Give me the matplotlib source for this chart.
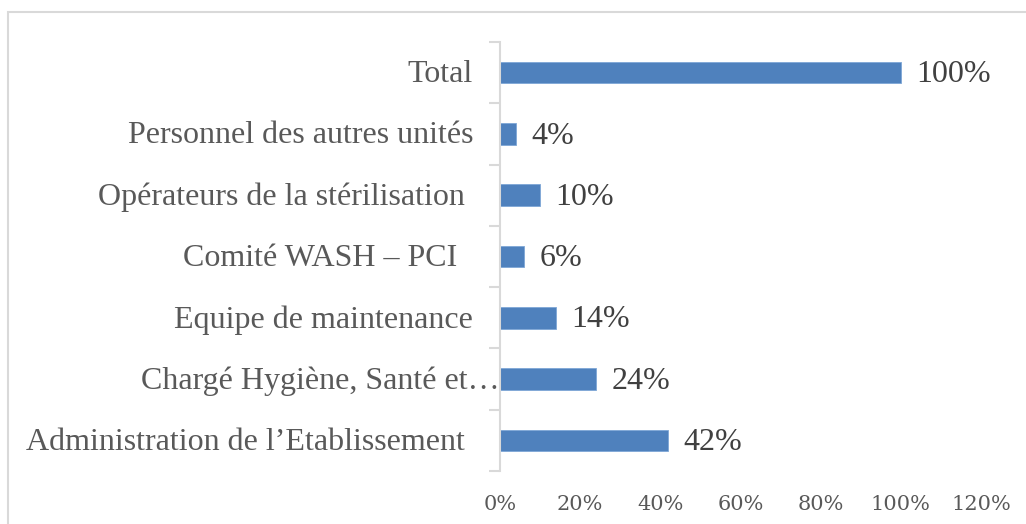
import matplotlib
matplotlib.use("Agg")
import matplotlib.pyplot as plt
import matplotlib.transforms as mtransforms
from matplotlib.patches import Rectangle

categories = [
    "Administration de l\u2019Etablissement",
    "Charg\u00e9 Hygi\u00e8ne, Sant\u00e9 et\u2026",
    "Equipe de maintenance",
    "Comit\u00e9 WASH \u2013 PCI",
    "Op\u00e9rateurs de la st\u00e9rilisation",
    "Personnel des autres unit\u00e9s",
    "Total",
]
values = [42, 24, 14, 6, 10, 4, 100]
xticks = [0, 20, 40, 60, 80, 100, 120]
xtick_labels = ["0%", "20%", "40%", "60%", "80%", "100%", "120%"]

# style: gap (px) between label end and axis
label_gaps = [35, 0, 27, 43, 35, 27, 27]

W, H = 1026, 524
fig = plt.figure(figsize=(W / 100, H / 100), dpi=100)
fig.patch.set_facecolor("white")

# outer frame
fig.add_artist(Rectangle((8 / W, -0.05), 1.2, 1 - 12 / H + 0.05,
                         transform=fig.transFigure, fill=False,
                         edgecolor="#d9d9d9", linewidth=1.5))

left, right, top, bottom = 500, 981, 42, 471
ax = fig.add_axes([left / W, 1 - bottom / H, (right - left) / W, (bottom - top) / H])

y = list(range(len(categories)))
ax.barh(y, values, height=0.35, color="#4f81bd", edgecolor="#7ea6d6", linewidth=0.6, zorder=2)
ax.set_xlim(0, 120)
ax.set_ylim(-0.5, len(categories) - 0.5)

for s in ["top", "right", "bottom"]:
    ax.spines[s].set_visible(False)
ax.spines["left"].set_color("#d9d9d9")
ax.spines["left"].set_linewidth(1.5)

ax.set_yticks([i - 0.5 for i in range(len(categories) + 1)])
ax.set_yticklabels([])
ax.tick_params(axis="y", length=8, width=1.5, color="#d9d9d9", direction="out")

ax.set_xticks(xticks)
ax.set_xticklabels(xtick_labels, fontfamily="DejaVu Serif", fontsize=15, color="#595959")
ax.tick_params(axis="x", length=0, pad=17)

serif = ["Liberation Serif", "DejaVu Serif"]
for i, (cat, gap) in enumerate(zip(categories, label_gaps)):
    tr = mtransforms.blended_transform_factory(ax.transAxes, ax.transData)
    tr = tr + mtransforms.ScaledTranslation(-gap / 100, -2 / 100, fig.dpi_scale_trans)
    ax.text(0, i, cat, transform=tr, ha="right", va="center",
            fontfamily=serif, fontsize=23, color="#595959")

for i, v in enumerate(values):
    ax.annotate(f"{v}%", xy=(v, i), xytext=(11, -1.5), textcoords="offset points",
                ha="left", va="center", fontfamily=serif, fontsize=23, color="#404040")

fig.savefig("out.png", dpi=100)
